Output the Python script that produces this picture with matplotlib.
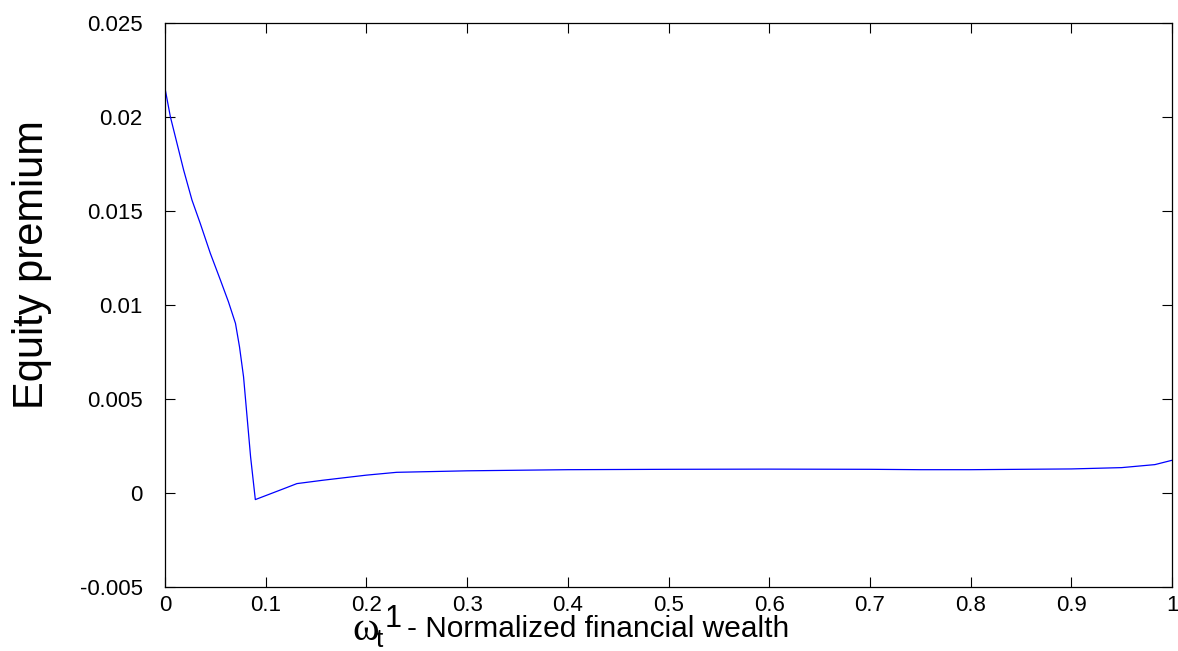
import matplotlib
matplotlib.use("Agg")
import matplotlib.pyplot as plt

W, H = 1178, 651

# ---- data ----
wealth = [0, 0.0053, 0.0185, 0.0268, 0.035, 0.045, 0.055, 0.063, 0.070, 0.074,
          0.078, 0.085, 0.0897, 0.118, 0.131, 0.157, 0.184, 0.2, 0.23, 0.3,
          0.4, 0.5, 0.6, 0.7, 0.75, 0.8, 0.9, 0.95, 0.983, 1.0]
premium = [0.02153, 0.02002, 0.01718, 0.01558, 0.01434, 0.01275, 0.01133, 0.01017,
           0.00902, 0.00777, 0.00618, 0.00192, -0.00035, 0.00023, 0.0005, 0.00068,
           0.00085, 0.00095, 0.0011, 0.00118, 0.00124, 0.00126, 0.00127, 0.00126,
           0.00124, 0.00124, 0.00128, 0.00135, 0.00151, 0.00174]
xticks = [0, 0.1, 0.2, 0.3, 0.4, 0.5, 0.6, 0.7, 0.8, 0.9, 1]
xtick_labels = ["0", "0.1", "0.2", "0.3", "0.4", "0.5", "0.6", "0.7", "0.8", "0.9", "1"]
yticks = [-0.005, 0, 0.005, 0.01, 0.015, 0.02, 0.025]
ytick_labels = ["-0.005", "0", "0.005", "0.01", "0.015", "0.02", "0.025"]

sans = ["Liberation Sans", "DejaVu Sans"]
serif = ["Liberation Serif", "DejaVu Serif"]

fig = plt.figure(figsize=(W / 100, H / 100), dpi=100)
ax = fig.add_axes([165 / W, 1 - 587 / H, (1172 - 165) / W, (587 - 23) / H])
ax.plot(wealth, premium, color=(0, 0, 1), lw=0.9)
ax.set_xlim(0, 1)
ax.set_ylim(-0.005, 0.025)
ax.set_xticks(xticks)
ax.set_xticklabels(xtick_labels, family=sans, fontsize=16)
ax.set_yticks(yticks)
ax.set_yticklabels(ytick_labels, family=sans, fontsize=16)
ax.tick_params(direction="in", length=7, width=0.8, top=True, right=True, pad=16)
ax.tick_params(axis="x", pad=6)
for s in ax.spines.values():
    s.set_linewidth(0.9)

ax.set_ylabel("Equity premium", family=sans, fontsize=30)
ax.yaxis.set_label_coords((52 - 165) / 1007, (587 - 265) / 564)

def px(x, y):
    return x / W, 1 - y / H

fig.text(*px(352, 640), "\u03c9", family=serif, fontsize=29, va="baseline")
fig.text(*px(376, 647), "t", family=sans, fontsize=19, va="baseline")
fig.text(*px(385, 627), "1", family=sans, fontsize=22, va="baseline")
fig.text(*px(407, 637), "- Normalized financial wealth", family=sans, fontsize=21.5, va="baseline")

fig.savefig("out.png", dpi=100)
